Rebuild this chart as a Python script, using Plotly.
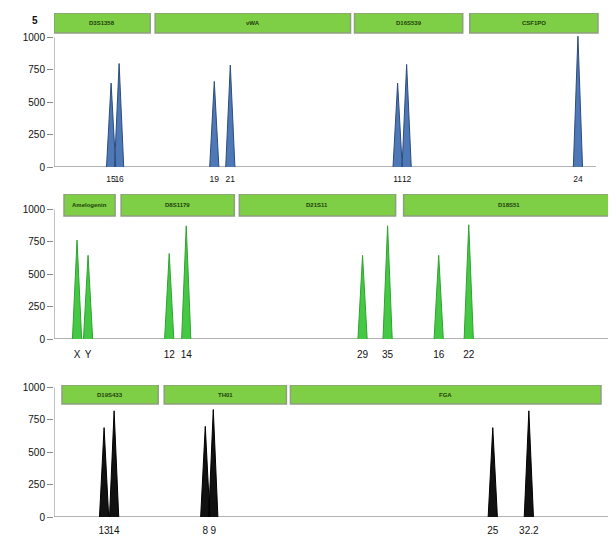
import plotly.graph_objects as go

# ---------------- data ----------------
# Panel 1 (blue dye)
p1_loci = ["D3S1358", "vWA", "D16S539", "CSF1PO"]
p1_locus_start = [100, 150.5, 250, 307.5]
p1_locus_end = [148, 248, 304, 371.5]
p1_alleles = ["15", "16", "19", "21", "11", "12", "24"]
p1_size = [128.5, 132.5, 180, 188, 271.5, 276, 361.5]
p1_height = [648, 799, 661, 787, 648, 792, 1010]

# Panel 2 (green dye)
p2_loci = ["Amelogenin", "D8S1179", "D21S11", "D18S51"]
p2_locus_start = [105, 133.5, 192.5, 274.5]
p2_locus_end = [130.5, 190, 270.5, 380]
p2_alleles = ["X", "Y", "12", "14", "29", "35", "16", "22"]
p2_size = [111.5, 117, 157.5, 166, 254, 266.5, 292, 307]
p2_height = [764, 646, 660, 874, 646, 874, 646, 882]

# Panel 3 (black dye)
p3_loci = ["D19S433", "TH01", "FGA"]
p3_locus_start = [104, 155, 218]
p3_locus_end = [152, 216, 373]
p3_alleles = ["13", "14", "8", "9", "25", "32.2"]
p3_size = [125, 130, 175.5, 179.5, 319, 337]
p3_height = [690, 820, 700, 830, 690, 820]

y_ticks = [0, 250, 500, 750, 1000]

# ---------------- style / layout ----------------
OFF = 8                      # page body margin of the browser
W, H = 616 - OFF, 540 - OFF
FONT = "Liberation Sans, Arial, sans-serif"
X_RANGE = [100, 380]
HALF_WIDTH = 2.3

panels = [
    dict(loci=p1_loci, ls=p1_locus_start, le=p1_locus_end, alleles=p1_alleles,
         size=p1_size, height=p1_height, fill="#4F78B6", edge="#2C4C7E",
         zero_px=167, top_px=13, box_bot_px=33, base_end=370.5, xfs=8.5, standoff=5),
    dict(loci=p2_loci, ls=p2_locus_start, le=p2_locus_end, alleles=p2_alleles,
         size=p2_size, height=p2_height, fill="#45C945", edge="#2FA32F",
         zero_px=339, top_px=194, box_bot_px=216, base_end=380, xfs=10, standoff=8),
    dict(loci=p3_loci, ls=p3_locus_start, le=p3_locus_end, alleles=p3_alleles,
         size=p3_size, height=p3_height, fill="#111111", edge="#000000",
         zero_px=517, top_px=385, box_bot_px=404, base_end=380, xfs=10, standoff=6),
]

PX_PER_UNIT = 0.1295
LEFT_PX = 54                 # page x of the y axis
RIGHT_PX = 615

fig = go.Figure()
shapes = []
annotations = []

for i, p in enumerate(panels, start=1):
    xa = "x" if i == 1 else f"x{i}"
    ya = "y" if i == 1 else f"y{i}"
    xs, ys = [], []
    for s, h in zip(p["size"], p["height"]):
        xs += [s - HALF_WIDTH, s, s + HALF_WIDTH, None]
        ys += [0, h, 0, None]
    fig.add_trace(go.Scatter(
        x=xs, y=ys, xaxis=xa, yaxis=ya, mode="lines", fill="toself",
        fillcolor=p["fill"], line=dict(color=p["edge"], width=1),
        hoverinfo="skip", showlegend=False))

    ymax = (p["zero_px"] - p["top_px"]) / PX_PER_UNIT
    box_top = ymax
    box_bot = (p["zero_px"] - p["box_bot_px"]) / PX_PER_UNIT
    dom = [1 - (p["zero_px"] - OFF) / H, 1 - (p["top_px"] - OFF) / H]

    fig.layout[("xaxis" if i == 1 else f"xaxis{i}")] = dict(
        domain=[0, 1], range=X_RANGE, anchor=ya, automargin=False,
        tickmode="array", tickvals=p["size"], ticktext=p["alleles"],
        ticks="", tickangle=0, ticklabelstandoff=p["standoff"],
        showgrid=False, zeroline=False, showline=False,
        tickfont=dict(family=FONT, size=p["xfs"], color="#111"))
    fig.layout[("yaxis" if i == 1 else f"yaxis{i}")] = dict(
        domain=dom, range=[0, ymax], anchor=xa, automargin=False,
        tickmode="array", tickvals=y_ticks, ticks="outside", ticklen=6,
        tickcolor="#888", tickwidth=1, showgrid=False, zeroline=False,
        showline=False, tickfont=dict(family=FONT, size=10, color="#111"))

    # axis lines
    shapes.append(dict(type="line", xref=xa, yref=ya, x0=X_RANGE[0], x1=X_RANGE[0],
                       y0=0, y1=1000, line=dict(color="#999", width=1.2), layer="below"))
    shapes.append(dict(type="line", xref=xa, yref=ya, x0=X_RANGE[0], x1=p["base_end"],
                       y0=0, y1=0, line=dict(color="#9a9a9a", width=1.6), layer="below"))
    # locus boxes
    for name, a, b in zip(p["loci"], p["ls"], p["le"]):
        shapes.append(dict(type="rect", xref=xa, yref=ya, x0=a, x1=b,
                           y0=box_bot, y1=box_top, fillcolor="#7ECF45",
                           line=dict(color="#8E9E80", width=1.5)))
        annotations.append(dict(xref=xa, yref=ya, x=(a + b) / 2, y=(box_top + box_bot) / 2,
                                text=f"<b>{name}</b>", showarrow=False,
                                font=dict(family=FONT, size=6, color="#1F400C")))

annotations.append(dict(xref="paper", yref="paper", x=(30 - LEFT_PX) / (RIGHT_PX - LEFT_PX),
                        y=1 - (13 - OFF) / H, text="<b>5</b>",
                        showarrow=False, font=dict(family=FONT, size=10, color="#111")))

fig.update_layout(
    width=W, height=H,
    margin=dict(l=LEFT_PX - OFF, r=W - (RIGHT_PX - OFF), t=0, b=0),
    plot_bgcolor="white", paper_bgcolor="white",
    shapes=shapes, annotations=annotations, showlegend=False)

fig.write_html("out.html")
